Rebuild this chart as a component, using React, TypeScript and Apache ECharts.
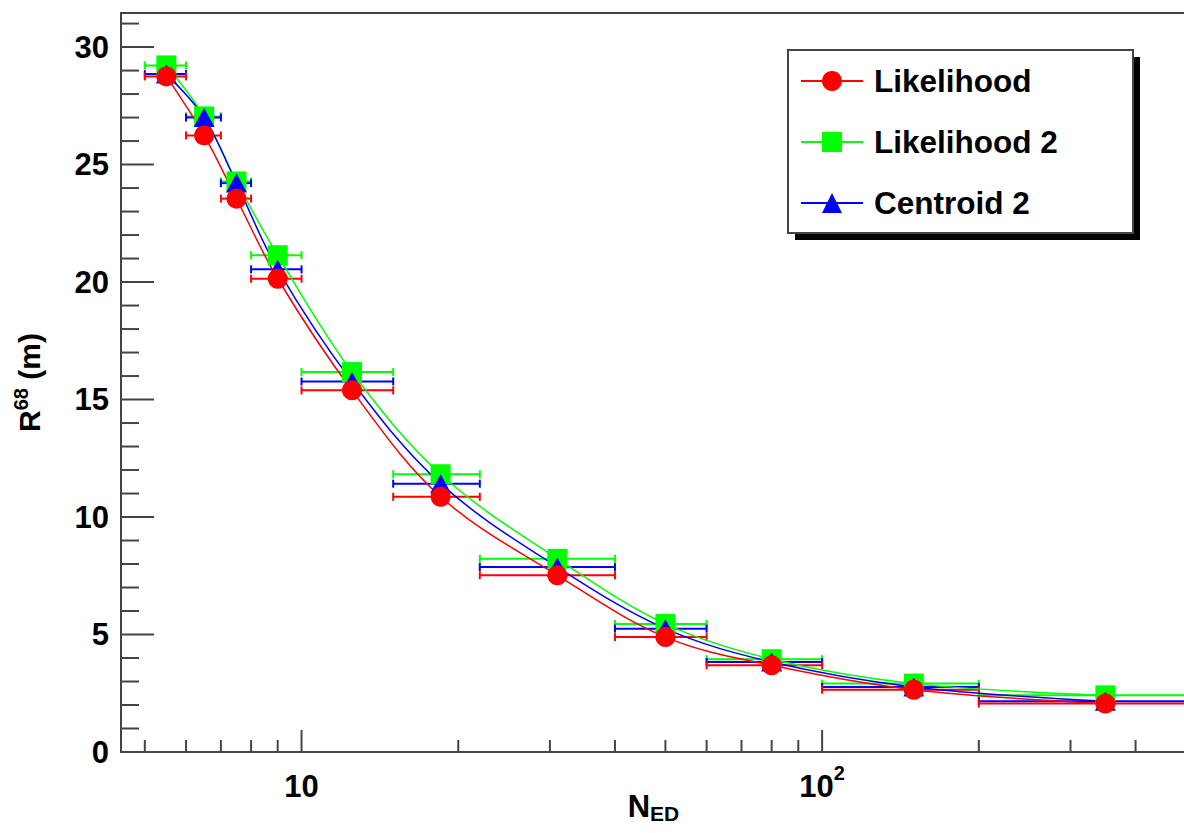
import React, { useEffect, useRef } from "react";
import * as echarts from "echarts";

// N_ED bins (x): centres and bin edges
const nED = [5.5, 6.5, 7.5, 9, 12.5, 18.5, 31, 50, 80, 150, 350];
const nEDLow = [5, 6, 7, 8, 10, 15, 22, 40, 60, 100, 200];
const nEDHigh = [6, 7, 8, 10, 15, 22, 40, 60, 100, 200, 500];

// R68 (m) per method
const likelihood = [28.75, 26.24, 23.55, 20.14, 15.39, 10.86, 7.52, 4.89, 3.69, 2.65, 2.06];
const likelihood2 = [29.22, 27.05, 24.28, 21.14, 16.17, 11.82, 8.22, 5.45, 3.95, 2.91, 2.41];
const centroid2 = [28.85, 27.0, 24.21, 20.54, 15.77, 11.42, 7.87, 5.25, 3.83, 2.77, 2.16];

const seriesNames = ["Likelihood", "Likelihood 2", "Centroid 2"];

// axis ticks
const xMajorTicks = [10, 100];
const xMinorTicks = [5, 6, 7, 8, 9, 20, 30, 40, 50, 60, 70, 80, 90, 200, 300, 400];
const yMajorTicks = [0, 5, 10, 15, 20, 25, 30];
const yMinorTicks = [1, 2, 3, 4, 6, 7, 8, 9, 11, 12, 13, 14, 16, 17, 18, 19, 21, 22, 23, 24, 26, 27, 28, 29, 31];

const FONT = "'Liberation Sans', Arial, Helvetica, sans-serif";
const AXIS_COLOR = "#444";

function errorBarSeries(name: string, ys: number[], color: string) {
  return {
    name,
    type: "custom",
    silent: true,
    encode: { x: 0, y: 1 },
    data: nED.map((x, i) => [x, ys[i], nEDLow[i], nEDHigh[i]]),
    renderItem: (params: any, api: any) => {
      const y = api.value(1);
      const p1 = api.coord([api.value(2), y]);
      const p2 = api.coord([api.value(3), y]);
      const st = { stroke: color, lineWidth: 2 };
      return {
        type: "group",
        children: [
          { type: "line", shape: { x1: p1[0], y1: p1[1], x2: p2[0], y2: p2[1] }, style: st },
          { type: "line", shape: { x1: p1[0], y1: p1[1] - 4, x2: p1[0], y2: p1[1] + 4 }, style: st },
          { type: "line", shape: { x1: p2[0], y1: p2[1] - 4, x2: p2[0], y2: p2[1] + 4 }, style: st },
        ],
      };
    },
    z: 2,
  };
}

function lineSeries(name: string, ys: number[], color: string, symbol: string, size: any) {
  return {
    name,
    type: "line",
    data: nED.map((x, i) => [x, ys[i]]),
    smooth: 0.35,
    symbol,
    symbolSize: size,
    showAllSymbol: true,
    lineStyle: { color, width: 1.5 },
    itemStyle: { color },
    emphasis: { disabled: true },
    z: 2,
  };
}

export default function App() {
  const ref = useRef<HTMLDivElement>(null);

  useEffect(() => {
    if (!ref.current) return;
    const chart = echarts.init(ref.current, undefined, { renderer: "svg" });

    const tickData: any[] = [];
    xMinorTicks.forEach((v) => tickData.push([v, 10, 0]));
    xMajorTicks.forEach((v) => tickData.push([v, 10, 1]));
    yMinorTicks.forEach((v) => tickData.push([10, v, 2]));
    yMajorTicks.forEach((v) => tickData.push([10, v, 3]));

    const option: any = {
      animation: false,
      backgroundColor: "#fff",
      textStyle: { fontFamily: FONT },
      grid: {
        left: 121,
        top: 13,
        width: 1065,
        height: 739,
        containLabel: false,
        outerBoundsMode: "none",
        show: true,
        borderColor: AXIS_COLOR,
        borderWidth: 2,
        backgroundColor: "transparent",
      },
      xAxis: {
        type: "log",
        logBase: 10,
        min: 4.5,
        max: 500,
        axisLine: { show: true, lineStyle: { color: AXIS_COLOR, width: 2 } },
        axisTick: { show: false },
        splitLine: { show: false },
        minorTick: { show: false },
        axisLabel: {
          margin: 11,
          color: "#000",
          formatter: (v: number) => {
            const l = Math.log10(v);
            if (Math.abs(l - Math.round(l)) > 1e-6) return "";
            const e = Math.round(l);
            if (e === 1) return "{n|10}";
            return "{n|10}{s|" + e + "}";
          },
          rich: {
            n: { fontSize: 31, fontWeight: "bold", fontFamily: FONT, color: "#000", lineHeight: 46 },
            s: { fontSize: 20, fontWeight: "bold", fontFamily: FONT, color: "#000", lineHeight: 20, verticalAlign: "top" },
          },
        },
        name: "{n|N}{s|ED}",
        nameLocation: "middle",
        nameGap: 36,
        nameMoveOverlap: false,
        nameTextStyle: {
          rich: {
            n: { fontSize: 31, fontWeight: "bold", fontFamily: FONT, color: "#000", lineHeight: 36 },
            s: { fontSize: 21, fontWeight: "bold", fontFamily: FONT, color: "#000", lineHeight: 14, verticalAlign: "bottom" },
          },
        },
      },
      yAxis: {
        type: "value",
        min: 0,
        max: 31.45,
        interval: 5,
        axisLine: { show: true, lineStyle: { color: AXIS_COLOR, width: 2 } },
        axisTick: { show: false },
        splitLine: { show: false },
        axisLabel: {
          margin: 12,
          color: "#000",
          fontSize: 31,
          fontWeight: "bold",
          fontFamily: FONT,
          formatter: (v: number) => (Math.abs(v % 5) < 1e-9 ? String(v) : ""),
        },
        name: "{n|R}{s|68}{n| (m)}",
        nameLocation: "middle",
        nameRotate: 90,
        nameGap: 74,
        nameMoveOverlap: false,
        nameTextStyle: {
          rich: {
            n: { fontSize: 30, fontWeight: "bold", fontFamily: FONT, color: "#000", lineHeight: 36 },
            s: { fontSize: 20, fontWeight: "bold", fontFamily: FONT, color: "#000", lineHeight: 26, verticalAlign: "top" },
          },
        },
      },
      legend: {
        show: true,
        orient: "vertical",
        left: 800,
        top: 65,
        padding: 0,
        itemWidth: 62,
        itemHeight: 25,
        itemGap: 29,
        selectedMode: false,
        data: seriesNames,
        z: 10,
        textStyle: {
          fontSize: 31.5,
          fontWeight: "bold",
          fontFamily: FONT,
          color: "#000",
          padding: [0, 0, 0, 6],
        },
      },
      graphic: [
        { type: "rect", z: 5, silent: true, shape: { x: 795, y: 57, width: 345, height: 183 }, style: { fill: "#000" } },
        { type: "rect", z: 6, silent: true, shape: { x: 788, y: 50, width: 345, height: 183 }, style: { fill: "#fff", stroke: AXIS_COLOR, lineWidth: 2 } },
      ],
      series: [
        {
          name: "ticks",
          type: "custom",
          silent: true,
          clip: false,
          encode: { x: 0, y: 1 },
          data: tickData,
          z: 3,
          renderItem: (params: any, api: any) => {
            const kind = api.value(2);
            const cs = params.coordSys;
            const st = { stroke: AXIS_COLOR, lineWidth: 2 };
            if (kind < 2) {
              const px = api.coord([api.value(0), 10])[0];
              const y0 = cs.y + cs.height;
              const len = kind === 1 ? 22 : 12;
              return { type: "line", shape: { x1: px, y1: y0, x2: px, y2: y0 - len }, style: st };
            }
            const py = api.coord([10, api.value(1)])[1];
            const x0 = cs.x;
            const len = kind === 3 ? 33 : 18;
            return { type: "line", shape: { x1: x0, y1: py, x2: x0 + len, y2: py }, style: st };
          },
        },
        errorBarSeries("err-l2", likelihood2, "#00ff00"),
        lineSeries("Likelihood 2", likelihood2, "#00ff00", "rect", 20),
        errorBarSeries("err-c2", centroid2, "#0000ff"),
        lineSeries("Centroid 2", centroid2, "#0000ff", "triangle", [21, 19]),
        errorBarSeries("err-l", likelihood, "#ff0000"),
        lineSeries("Likelihood", likelihood, "#ff0000", "circle", 20),
      ],
    };

    chart.setOption(option);
    return () => chart.dispose();
  }, []);

  return (
    <div
      ref={ref}
      style={{ position: "absolute", left: 0, top: 0, width: 1184, height: 833 }}
    />
  );
}
